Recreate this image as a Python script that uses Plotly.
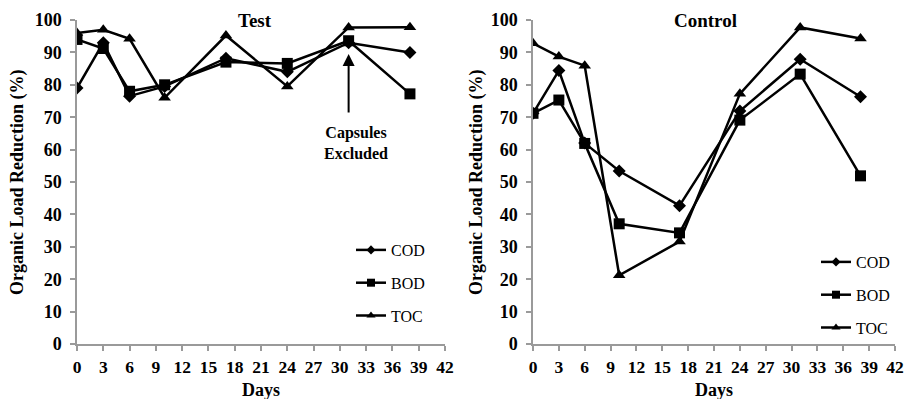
import plotly.graph_objects as go

days = [0, 3, 6, 10, 17, 24, 31, 38]

test_cod = [79, 93, 76.5, 79.5, 88.2, 84, 93, 90]
test_bod = [94, 91.2, 78, 80, 87, 86.6, 93.6, 77.2]
test_toc = [96, 97, 94.2, 76, 95.2, 79.5, 97.7, 97.8]

ctrl_cod = [71.2, 84.4, 62, 53.4, 42.7, 71.9, 87.9, 76.3]
ctrl_bod = [71.2, 75.3, 61.9, 37.1, 34.3, 69.1, 83.3, 51.9]
ctrl_toc = [92.8, 88.7, 85.9, 21.2, 31.6, 77.2, 97.7, 94.3]

series_names = ["COD", "BOD", "TOC"]
symbols = ["diamond", "square", "triangle-up"]
msizes = [10, 11, 11]
legend_msizes = [7, 8, 8]

x_ticks = list(range(0, 43, 3))
y_ticks = list(range(0, 101, 10))

FONT = "Liberation Serif"
AXIS_COLOR = "#9a9a9a"

fig = go.Figure()

panels = [
    ("x", "y", "legend", "t", [test_cod, test_bod, test_toc]),
    ("x2", "y2", "legend2", "c", [ctrl_cod, ctrl_bod, ctrl_toc]),
]
for xa, ya, leg, tag, data in panels:
    for i, (name, ys) in enumerate(zip(series_names, data)):
        fig.add_trace(go.Scatter(
            x=days, y=ys, name=name, mode="lines+markers",
            line=dict(color="black", width=2.5),
            marker=dict(symbol=symbols[i], size=msizes[i], color="black"),
            xaxis=xa, yaxis=ya, showlegend=False,
        ))
    # legend entries (smaller symbols, as in the original legend)
    for i, name in enumerate(series_names):
        fig.add_trace(go.Scatter(
            x=[None], y=[None], name=name, mode="lines+markers",
            line=dict(color="black", width=2.5),
            marker=dict(symbol=symbols[i], size=legend_msizes[i], color="black"),
            xaxis=xa, yaxis=ya, legend=leg, legendgroup=tag + name, hoverinfo="skip",
        ))

W, H = 905, 399


def px(xp):
    return xp / W


def py(yp):
    return (H - yp) / H


ydom = [py(344), py(20)]


def xaxis_cfg(domain, anchor):
    return dict(
        domain=domain, anchor=anchor, range=[0, 42], tickvals=x_ticks, automargin=False,
        showgrid=False, zeroline=False, showline=True, linecolor=AXIS_COLOR, linewidth=1.5,
        ticks="outside", ticklen=5, tickcolor=AXIS_COLOR, tickwidth=1.5,
        tickfont=dict(family=FONT, size=17.5, color="black", weight="bold"),
        ticklabelstandoff=1,
    )


def yaxis_cfg(anchor):
    return dict(
        domain=ydom, anchor=anchor, range=[0, 100], tickvals=y_ticks, automargin=False,
        showgrid=False, zeroline=False, showline=True, linecolor=AXIS_COLOR, linewidth=1.5,
        ticks="outside", ticklen=5, tickcolor=AXIS_COLOR, tickwidth=1.5,
        tickfont=dict(family=FONT, size=18, color="black", weight="bold"),
        ticklabelstandoff=5,
    )


left_dom = [px(77), px(445)]
right_dom = [px(533), px(895)]

legend_common = dict(
    font=dict(family=FONT, size=16, color="black"),
    bgcolor="rgba(0,0,0,0)", borderwidth=0, tracegroupgap=9,
    xanchor="left", yanchor="top", itemwidth=30,
)


def ylab(xp):
    return dict(text="<b>Organic Load Reduction (%)</b>", x=px(xp), y=0.5 * (ydom[0] + ydom[1]),
                xref="paper", yref="paper", xanchor="center", yanchor="middle",
                textangle=-90, showarrow=False,
                font=dict(family=FONT, size=18, color="black"))


def xlab(xp):
    return dict(text="<b>Days</b>", x=px(xp), y=py(390), xref="paper", yref="paper",
                xanchor="center", yanchor="middle",
                showarrow=False, font=dict(family=FONT, size=18, color="black"))


fig.update_layout(
    width=W, height=H,
    margin=dict(l=0, r=0, t=0, b=0),
    paper_bgcolor="white", plot_bgcolor="white",
    xaxis=xaxis_cfg(left_dom, "y"),
    yaxis=yaxis_cfg("x"),
    xaxis2=xaxis_cfg(right_dom, "y2"),
    yaxis2=yaxis_cfg("x2"),
    legend=dict(x=px(351), y=py(233), **legend_common),
    legend2=dict(x=px(816), y=py(245), **legend_common),
    annotations=[
        dict(text="<b>Test</b>", x=px(255), y=py(20), xref="paper", yref="paper",
             xanchor="center", yanchor="middle",
             showarrow=False, font=dict(family=FONT, size=19, color="black")),
        dict(text="<b>Control</b>", x=px(705), y=py(20), xref="paper", yref="paper",
             xanchor="center", yanchor="middle",
             showarrow=False, font=dict(family=FONT, size=19, color="black")),
        ylab(17), ylab(476),
        xlab(261), xlab(714),
        dict(text="<b>Capsules<br>Excluded</b>", x=31.8, y=62, xref="x", yref="y",
             showarrow=False, font=dict(family=FONT, size=16, color="black")),
        dict(text="", x=31, y=89.5, ax=31, ay=71, xref="x", yref="y", axref="x", ayref="y",
             showarrow=True, arrowhead=2, arrowsize=1.2, arrowwidth=2, arrowcolor="black"),
    ],
)

# remove the default page margin so the 905x399 figure fills the window exactly
fig.write_html(
    "out.html",
    config={"displayModeBar": False},
    post_script="document.body.style.margin='0';document.body.style.overflow='hidden';",
)
